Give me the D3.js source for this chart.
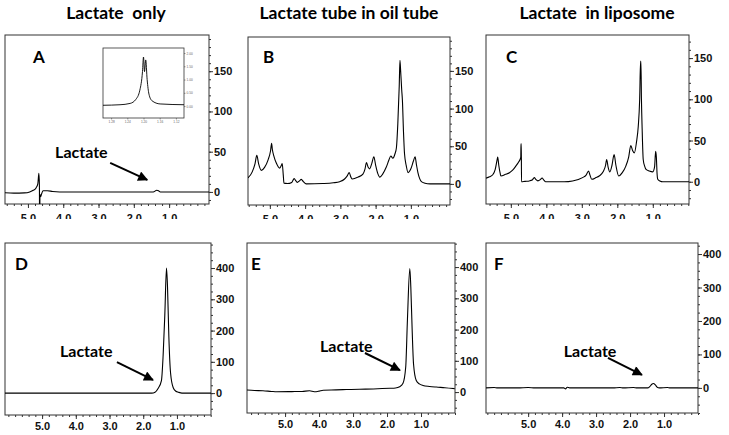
<!DOCTYPE html>
<html>
<head>
<meta charset="utf-8">
<script src="https://cdn.jsdelivr.net/npm/d3@7/dist/d3.min.js"></script>
<style>
body { margin: 0; background: #fff; }
svg { display: block; font-family: "Liberation Sans", Arial, sans-serif; }
.title, .lab, .letter { font-family: Lato, "Open Sans", sans-serif; font-weight: bold; white-space: pre; }
.axis text { font-family: "Liberation Sans", Arial, sans-serif; font-weight: bold; font-size: 11px; fill: #111; }
.axis path, .axis line { stroke: #333; }
.inset text { font-size: 3.2px; font-weight: normal; fill: #666; }
</style>
</head>
<body>
<div id="canvas"></div>
<script>
// column titles
var titles = ["Lactate  only", "Lactate tube in oil tube", "Lactate  in liposome"];
var panelLetters = ["A", "B", "C", "D", "E", "F"];
// tick labels
var ppmTicks = [5, 4, 3, 2, 1];
var topTicks = [0, 50, 100, 150];
var bottomTicks = [0, 100, 200, 300, 400];
var insetXTicks = [1.28, 1.24, 1.20, 1.16, 1.12];
var insetYTicks = [0, 0.5, 1, 1.5, 2];

// spectra: [ppm, intensity]
var specA = [[5.65,-1],[5.4,-1.5],[5.1,-1.2],[4.95,0],[4.85,2],[4.77,5],[4.72,10],[4.69,23],[4.675,8],[4.67,-40],[4.665,-40],[4.66,-3],[4.64,-6],[4.61,-2],[4.57,1.5],[4.45,1.5],[4.3,0.5],[4.1,0],[1.45,0],[1.35,2],[1.3,1.5],[1.25,0],[-0.13,0]];
var specB = [[5.62,8],[5.5,16],[5.42,27],[5.37,38],[5.32,27],[5.24,18],[5.15,22],[5.05,32],[4.98,44],[4.95,54],[4.93,46],[4.88,36],[4.82,28],[4.72,21],[4.67,25],[4.65,27],[4.62,12],[4.60,1],[4.5,0.5],[4.38,2],[4.31,7],[4.26,4],[4.22,2],[4.16,4],[4.11,6],[4.05,3],[3.97,0],[3.5,0.5],[3.2,1.5],[3.02,3],[2.88,6.5],[2.80,11],[2.75,15],[2.70,9],[2.66,6.5],[2.50,9],[2.36,13],[2.30,20],[2.26,28.5],[2.21,22],[2.17,20],[2.11,27],[2.05,36],[2.0,25],[1.94,14],[1.88,9],[1.80,13],[1.70,22],[1.62,32],[1.57,37],[1.51,34],[1.45,40],[1.41,48],[1.37,80],[1.33,130],[1.31,164],[1.29,150],[1.26,125],[1.24,111],[1.21,70],[1.18,40],[1.13,24],[1.08,15],[1.0,20],[0.93,30],[0.88,36],[0.84,25],[0.80,15],[0.75,7],[0.70,3],[0.6,1],[0.46,0],[-0.11,0]];
var specC = [[5.70,4.4],[5.6,6],[5.51,8.5],[5.44,15],[5.39,26],[5.37,30],[5.34,20],[5.30,10],[5.28,7],[5.15,9],[5.04,11],[4.95,14],[4.86,19],[4.78,24],[4.74,27],[4.72,30],[4.715,46],[4.705,46],[4.70,0],[4.6,0.5],[4.48,1],[4.40,2],[4.34,5],[4.29,2.5],[4.24,1],[4.17,2.5],[4.12,4.5],[4.07,2],[4.02,0],[3.5,0],[3.26,1],[2.98,5],[2.88,8],[2.81,13],[2.77,8],[2.72,3],[2.6,5],[2.51,7],[2.40,12],[2.33,20],[2.30,27],[2.26,18],[2.21,12],[2.15,20],[2.09,33],[2.04,20],[1.96,7],[1.86,11],[1.76,19],[1.68,30],[1.62,44],[1.57,38],[1.52,35],[1.46,48],[1.41,67],[1.37,100],[1.345,146],[1.335,146],[1.32,100],[1.30,64],[1.27,27],[1.23,19],[1.19,15],[1.10,13],[1.00,12],[0.95,18],[0.92,37],[0.90,30],[0.88,10],[0.86,3],[0.80,1],[0.72,0],[-0.02,0]];
var specD = [[6.10,0],[1.75,0],[1.65,3],[1.56,15],[1.46,40],[1.41,120],[1.36,250],[1.31,400],[1.28,340],[1.24,180],[1.19,65],[1.11,17],[1.03,6],[0.96,3],[0.85,0],[-0.01,0]];
var specE = [[6.12,6.4],[5.9,5],[5.65,4],[5.4,2],[5.25,1],[4.8,1.5],[4.5,2],[4.28,4],[4.14,1],[4.0,3],[3.88,6],[3.5,7],[3.2,8],[2.81,9],[2.4,10],[1.92,12],[1.75,13],[1.63,17],[1.53,28],[1.45,80],[1.40,230],[1.33,395],[1.30,336],[1.26,197],[1.22,90],[1.14,37],[1.05,26],[0.94,21],[0.75,18],[0.55,16],[0.3,14],[0.01,11]];
var specF = [[6.24,0],[6.0,1],[5.9,0],[5.3,0],[5.0,1],[4.8,0],[3.95,0],[3.9,-3],[3.85,2],[3.78,0],[2.5,0],[2.3,1],[2.2,0],[1.9,1],[1.8,0],[1.48,0],[1.42,4],[1.36,11],[1.31,13],[1.25,8],[1.2,2],[1.14,0],[0.9,1],[0.82,0],[0,0]];
var specInset = [[1.30,0.03],[1.258,0.05],[1.233,0.1],[1.219,0.25],[1.209,0.6],[1.2025,1.3],[1.200,1.85],[1.1975,1.3],[1.1945,1.74],[1.191,1.0],[1.1865,0.45],[1.179,0.2],[1.159,0.08],[1.10,0.05]];

// "Lactate" callouts: text anchor + arrow from / to, in data units
var calloutA = {text: [4.23, 42], from: [2.67, 36], to: [1.62, 15]};
var calloutD = {text: [4.47, 115], from: [2.78, 99], to: [1.71, 42]};
var calloutE = {text: [3.97, 128], from: [2.65, 125], to: [1.62, 70]};
var calloutF = {text: [3.95, 93], from: [2.65, 90], to: [1.65, 39]};

var W = 729, H = 435;
var svg = d3.select("#canvas").append("svg").attr("width", W).attr("height", H);

var defs = svg.append("defs");
defs.append("marker")
    .attr("id", "head")
    .attr("viewBox", "0 0 10 10")
    .attr("refX", 9).attr("refY", 5)
    .attr("markerWidth", 5.5).attr("markerHeight", 5)
    .attr("markerUnits", "strokeWidth")
    .attr("orient", "auto")
    .append("path").attr("d", "M0,0L10,5L0,10z").attr("fill", "#000");

// panel frames (pixels) and axis ranges
var panels = [
    {data: specA, x0: 5, x1: 209, y0: 35, y1: 204, xd: [5.65, -0.13], yd: [-15, 195], ticks: topTicks, minor: 10, lx: 28, ly: 28, callout: calloutA, top: true},
    {data: specB, x0: 248, x1: 450, y0: 37, y1: 205, xd: [5.62, -0.11], yd: [-28, 195], ticks: topTicks, minor: 10, lx: 15, ly: 26, top: true},
    {data: specC, x0: 486, x1: 689, y0: 35, y1: 204, xd: [5.70, -0.02], yd: [-27, 178], ticks: topTicks, minor: 10, lx: 20, ly: 28, top: true},
    {data: specD, x0: 5, x1: 211, y0: 243, y1: 415, xd: [6.10, -0.01], yd: [-70, 480], ticks: bottomTicks, minor: 25, lx: 10, ly: 27, callout: calloutD},
    {data: specE, x0: 247, x1: 455, y0: 243, y1: 413, xd: [6.12, 0.0], yd: [-67, 477], ticks: bottomTicks, minor: 25, lx: 4, ly: 27, callout: calloutE},
    {data: specF, x0: 486, x1: 698, y0: 243, y1: 413, xd: [6.24, 0.0], yd: [-75, 433], ticks: bottomTicks, minor: 25, lx: 8, ly: 27, callout: calloutF}
];

// titles
var titleX = [116, 349, 597];
svg.selectAll(".title").data(titles).join("text")
    .attr("class", "title")
    .attr("x", function (d, i) { return titleX[i]; })
    .attr("y", 19)
    .attr("text-anchor", "middle")
    .attr("font-size", 17.5)
    .text(function (d) { return d; });

// top row tick labels are cut by the lower images
defs.append("clipPath").attr("id", "topcut")
    .append("rect").attr("x", 0).attr("y", 0).attr("width", W).attr("height", 219);

function range(a, b, step) {
    var out = [];
    for (var v = Math.ceil(a / step) * step; v <= b + 1e-9; v += step) out.push(+v.toFixed(4));
    return out;
}

panels.forEach(function (p, i) {
    var x = d3.scaleLinear().domain(p.xd).range([p.x0, p.x1]);
    var y = d3.scaleLinear().domain(p.yd).range([p.y1, p.y0]);
    var g = svg.append("g");

    defs.append("clipPath").attr("id", "clip" + i)
        .append("rect").attr("x", p.x0).attr("y", p.y0)
        .attr("width", p.x1 - p.x0).attr("height", p.y1 - p.y0);

    g.append("rect")
        .attr("x", p.x0).attr("y", p.y0)
        .attr("width", p.x1 - p.x0).attr("height", p.y1 - p.y0)
        .attr("fill", "none").attr("stroke", "#333").attr("stroke-width", 1);

    // right axis: minor then major
    var lo = Math.max(p.yd[0], -p.minor * 3), hi = p.yd[1];
    g.append("g").attr("class", "axis")
        .attr("transform", "translate(" + p.x1 + ",0)")
        .call(d3.axisRight(y).tickValues(range(lo, hi, p.minor)).tickSize(2).tickFormat(""))
        .call(function (a) { a.select(".domain").remove(); });
    g.append("g").attr("class", "axis")
        .attr("transform", "translate(" + p.x1 + ",0)")
        .call(d3.axisRight(y).tickValues(p.ticks).tickSize(4).tickPadding(1).tickFormat(d3.format("d")))
        .call(function (a) { a.select(".domain").remove(); });

    // bottom axis
    var xa = g.append("g").attr("clip-path", p.top ? "url(#topcut)" : null);
    xa.append("g").attr("class", "axis")
        .attr("transform", "translate(0," + p.y1 + ")")
        .call(d3.axisBottom(x).tickValues(range(p.xd[1], p.xd[0], 0.2)).tickSize(2).tickFormat(""))
        .call(function (a) { a.select(".domain").remove(); });
    xa.append("g").attr("class", "axis")
        .attr("transform", "translate(0," + p.y1 + ")")
        .call(d3.axisBottom(x).tickValues(ppmTicks).tickSize(4).tickPadding(p.top ? 6 : 3).tickFormat(d3.format(".1f")))
        .call(function (a) { a.select(".domain").remove(); });

    // spectrum
    g.append("path")
        .datum(p.data)
        .attr("clip-path", "url(#clip" + i + ")")
        .attr("fill", "none").attr("stroke", "#000").attr("stroke-width", 1.1)
        .attr("d", d3.line()
            .x(function (d) { return x(d[0]); })
            .y(function (d) { return y(d[1]); })
            .curve(d3.curveMonotoneX));

    // panel letter
    g.append("text").attr("class", "letter")
        .attr("x", p.x0 + p.lx).attr("y", p.y0 + p.ly)
        .attr("font-size", 17).text(panelLetters[i]);

    if (p.callout) {
        var c = p.callout;
        g.append("text").attr("class", "lab")
            .attr("x", x(c.text[0])).attr("y", y(c.text[1]))
            .attr("font-size", 16).text("Lactate");
        g.append("line")
            .attr("x1", x(c.from[0])).attr("y1", y(c.from[1]))
            .attr("x2", x(c.to[0])).attr("y2", y(c.to[1]))
            .attr("stroke", "#000").attr("stroke-width", 2)
            .attr("marker-end", "url(#head)");
    }

    if (i === 0) {
        // zoomed inset of the lactate doublet
        var ix = d3.scaleLinear().domain([1.30, 1.10]).range([103, 184]);
        var iy = d3.scaleLinear().domain([-0.45, 2.19]).range([118, 48]);
        var ig = g.append("g").attr("class", "inset");
        ig.append("rect").attr("x", 103).attr("y", 48).attr("width", 81).attr("height", 70)
            .attr("fill", "#fff").attr("stroke", "#333").attr("stroke-width", 0.8);
        ig.append("g").attr("class", "axis")
            .attr("transform", "translate(184,0)")
            .call(d3.axisRight(iy).tickValues(insetYTicks).tickSize(1.5).tickPadding(1).tickFormat(d3.format(".2f")))
            .call(function (a) { a.select(".domain").remove(); a.selectAll("line").attr("stroke-width", 0.5); });
        ig.append("g").attr("class", "axis")
            .attr("transform", "translate(0,118)")
            .call(d3.axisBottom(ix).tickValues(insetXTicks).tickSize(1.5).tickPadding(1).tickFormat(d3.format(".2f")))
            .call(function (a) { a.select(".domain").remove(); a.selectAll("line").attr("stroke-width", 0.5); });
        ig.append("path").datum(specInset)
            .attr("fill", "none").attr("stroke", "#000").attr("stroke-width", 0.9)
            .attr("d", d3.line()
                .x(function (d) { return ix(d[0]); })
                .y(function (d) { return iy(d[1]); })
                .curve(d3.curveMonotoneX));
    }
});
</script>
</body>
</html>
